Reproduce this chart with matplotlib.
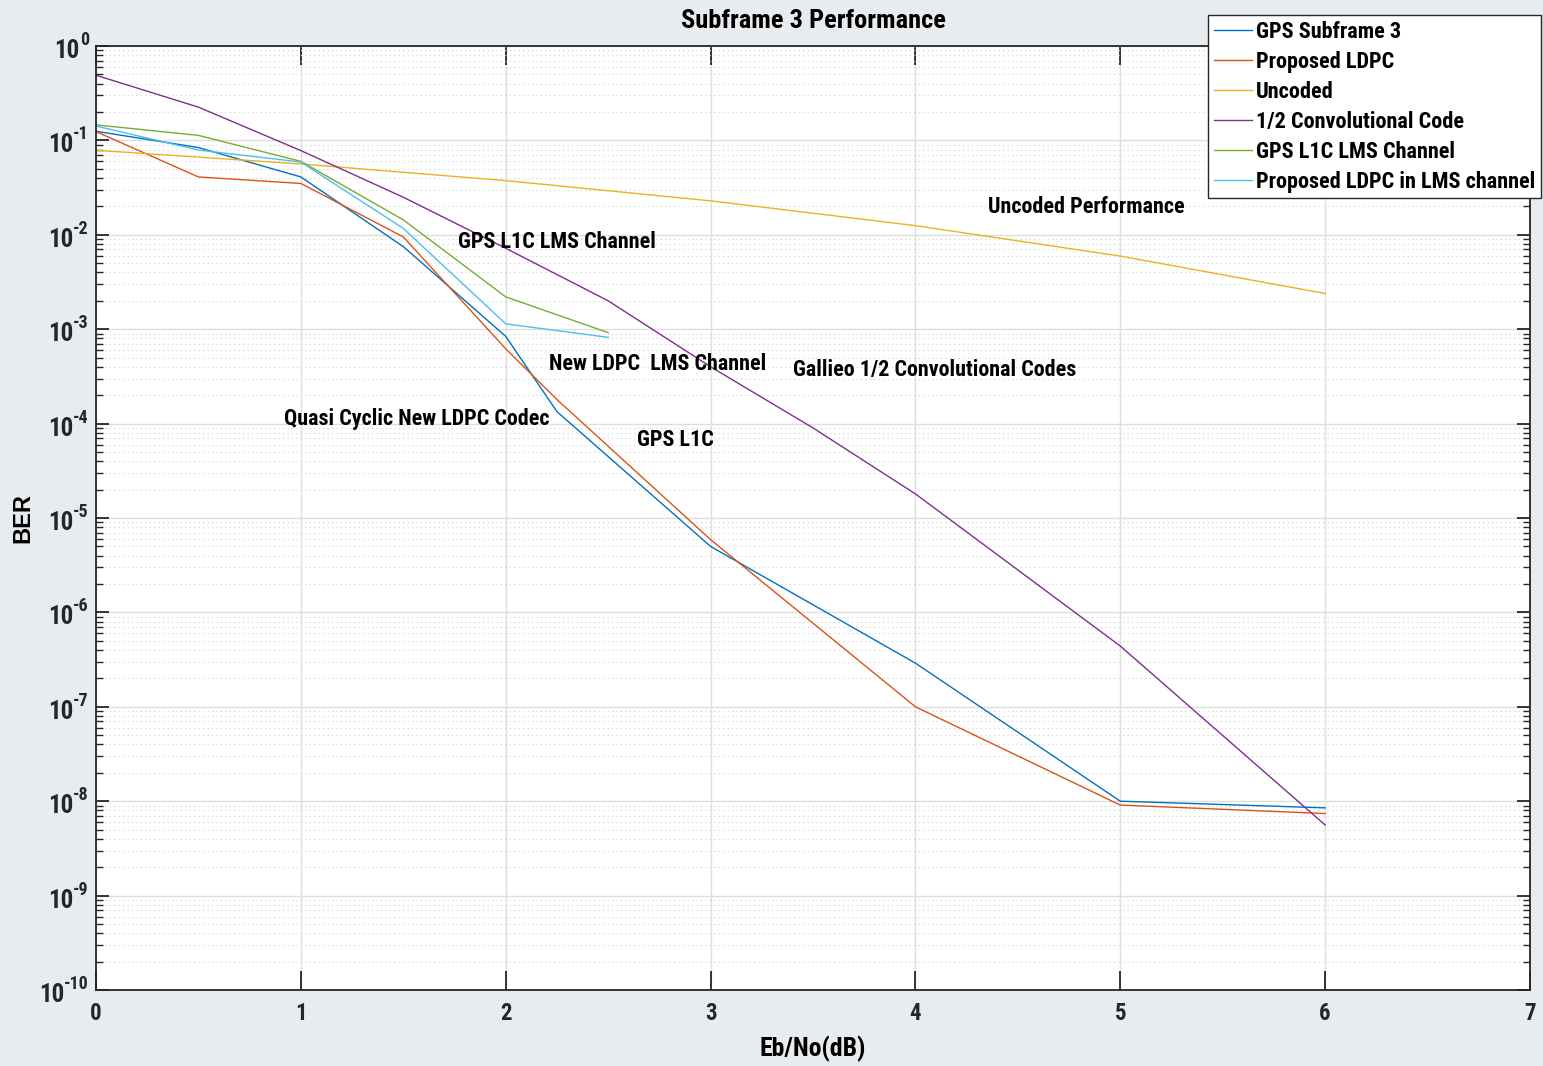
import matplotlib
matplotlib.use('Agg')
import matplotlib.pyplot as plt
from matplotlib import font_manager
import numpy as np

# pick a condensed family if one is installed (the MATLAB export uses a narrow bold face)
installed = sorted({f.name for f in font_manager.fontManager.ttflist})
wanted = ['Liberation Sans Narrow', 'Roboto Condensed', 'Open Sans Condensed',
          'DejaVu Sans Condensed', 'Arial Narrow', 'Nimbus Sans Narrow']
extra = [n for n in installed if 'Narrow' in n or 'Condensed' in n]
cond = next((n for n in wanted + extra if n in installed), None)
if cond is None:
    cond = 'Liberation Sans'
    k = 0.88          # shrink a little so widths get closer to the narrow face
else:
    k = 1.0
FONT = [cond, 'DejaVu Sans']
plt.rcParams['font.family'] = FONT

# data
x_sub3 = [0, 0.5, 1, 1.5, 2, 2.25, 3, 4, 5, 6]
ber_sub3 = [0.125, 0.084, 0.041, 0.0075, 8.4e-4, 1.34e-4, 5.0e-6, 2.9e-7, 1.0e-8, 8.5e-9]

x_ldpc = [0, 0.5, 1, 1.5, 2, 2.25, 3, 4, 5, 6]
ber_ldpc = [0.124, 0.041, 0.035, 0.0095, 6.2e-4, 1.8e-4, 5.9e-6, 1.0e-7, 9.1e-9, 7.4e-9]

x_unc = [0, 1, 2, 3, 4, 5, 6]
ber_unc = [0.0786, 0.0563, 0.0375, 0.0229, 0.0125, 0.00595, 0.00239]

x_conv = [0, 0.5, 1, 1.5, 2, 2.5, 3, 3.5, 4, 5, 6]
ber_conv = [0.49, 0.225, 0.078, 0.025, 0.0072, 0.0020, 4.0e-4, 9.0e-5, 1.8e-5, 4.4e-7, 5.6e-9]

x_l1c_lms = [0, 0.5, 1, 1.5, 2, 2.5]
ber_l1c_lms = [0.146, 0.113, 0.060, 0.0144, 0.0022, 9.2e-4]

x_ldpc_lms = [0, 0.5, 1, 1.5, 2, 2.5]
ber_ldpc_lms = [0.142, 0.079, 0.059, 0.0117, 0.00114, 8.2e-4]

series_names = ['GPS Subframe 3', 'Proposed LDPC', 'Uncoded', '1/2 Convolutional Code',
                'GPS L1C LMS Channel', 'Proposed LDPC in LMS channel']
colors = ['#0072BD', '#D95319', '#EDB120', '#7E2F8E', '#77AC30', '#4DBEEE']

notes = ['Uncoded Performance', 'GPS L1C LMS Channel', 'New LDPC  LMS Channel',
         'Gallieo 1/2 Convolutional Codes', 'Quasi Cyclic New LDPC Codec', 'GPS L1C']
note_x = [4.354, 1.767, 2.211, 3.402, 0.918, 2.641]
note_y = [0.0197, 0.0084, 4.27e-4, 3.7e-4, 1.12e-4, 6.7e-5]

decades = list(range(0, -11, -1))

fig = plt.figure(figsize=(15.43, 10.66), dpi=100)
fig.patch.set_facecolor('#e8ecef')
ax = fig.add_axes([96 / 1543, 76 / 1066, 1434 / 1543, 944 / 1066])
ax.set_facecolor('white')

all_x = [x_sub3, x_ldpc, x_unc, x_conv, x_l1c_lms, x_ldpc_lms]
all_y = [ber_sub3, ber_ldpc, ber_unc, ber_conv, ber_l1c_lms, ber_ldpc_lms]
for xs, ys, name, c in zip(all_x, all_y, series_names, colors):
    ax.semilogy(xs, ys, color=c, lw=1.0, label=name)

for t, xx, yy in zip(notes, note_x, note_y):
    ax.text(xx, yy, t, fontsize=15.8 * k, fontweight='bold', ha='left', va='center', color='black')

ax.set_xlim(0, 7)
ax.set_ylim(1e-10, 1)
ax.set_xticks(range(0, 8))
ax.set_xticklabels([str(i) for i in range(0, 8)])
ax.set_yticks([10.0 ** d for d in decades])
ax.set_yticklabels([])
ax.yaxis.set_minor_locator(matplotlib.ticker.LogLocator(base=10, subs=np.arange(2, 10), numticks=20))
ax.yaxis.set_minor_formatter(matplotlib.ticker.NullFormatter())

ax.tick_params(axis='both', which='both', direction='in', top=True, right=True, colors='#262626')
ax.tick_params(axis='x', which='major', length=14, width=1.3, labelsize=16.5 * k, pad=9)
ax.tick_params(axis='y', which='major', length=9.5, width=1.3)
ax.tick_params(axis='y', which='minor', length=5, width=1.0)
for lab in ax.get_xticklabels():
    lab.set_fontweight('bold')

ax.grid(True, which='major', color='#dedede', lw=1.0, ls='-')
ax.grid(True, which='minor', axis='y', color='#cfcfcf', lw=0.8, ls=(0, (1, 3)))
ax.set_axisbelow(True)
for s in ax.spines.values():
    s.set_color('#262626')
    s.set_linewidth(1.3)

# y tick labels as 10 with a raised exponent (hyphen minus, like MATLAB)
renderer = fig.canvas.get_renderer()
for d in decades:
    ex = ax.annotate(str(d), xy=(0, 10.0 ** d), xycoords=('axes fraction', 'data'),
                     xytext=(-7, 1), textcoords='offset pixels', ha='right', va='baseline',
                     fontsize=13 * k, fontweight='bold', color='#262626')
    w = ex.get_window_extent(renderer).width
    ax.annotate('10', xy=(0, 10.0 ** d), xycoords=('axes fraction', 'data'),
                xytext=(-7 - w, -12), textcoords='offset pixels', ha='right', va='baseline',
                fontsize=18 * k, fontweight='bold', color='#262626')

ax.set_xlabel('Eb/No(dB)', fontsize=18.5 * k, fontweight='bold', labelpad=7)
fig.text(23 / 1543, 1 - 518 / 1066, 'BER', fontsize=17, fontweight='bold', rotation=90,
         ha='center', va='center', family=['Liberation Sans', 'DejaVu Sans'])
fig.text(813 / 1543, 1 - 21 / 1066, 'Subframe 3 Performance', fontsize=19 * k, fontweight='bold',
         ha='center', va='center')

leg = ax.legend(loc='upper right', bbox_to_anchor=(1541 / 1543, 1 - 15 / 1066),
                bbox_transform=fig.transFigure, borderaxespad=0, fancybox=False,
                framealpha=1, edgecolor='#262626', handlelength=1.7, handletextpad=0.2,
                labelspacing=0.36 / k, borderpad=0.25, prop={'size': 16 * k, 'weight': 'bold'})
leg.get_frame().set_linewidth(1.0)

fig.savefig('out.png', dpi=100, facecolor=fig.get_facecolor())
